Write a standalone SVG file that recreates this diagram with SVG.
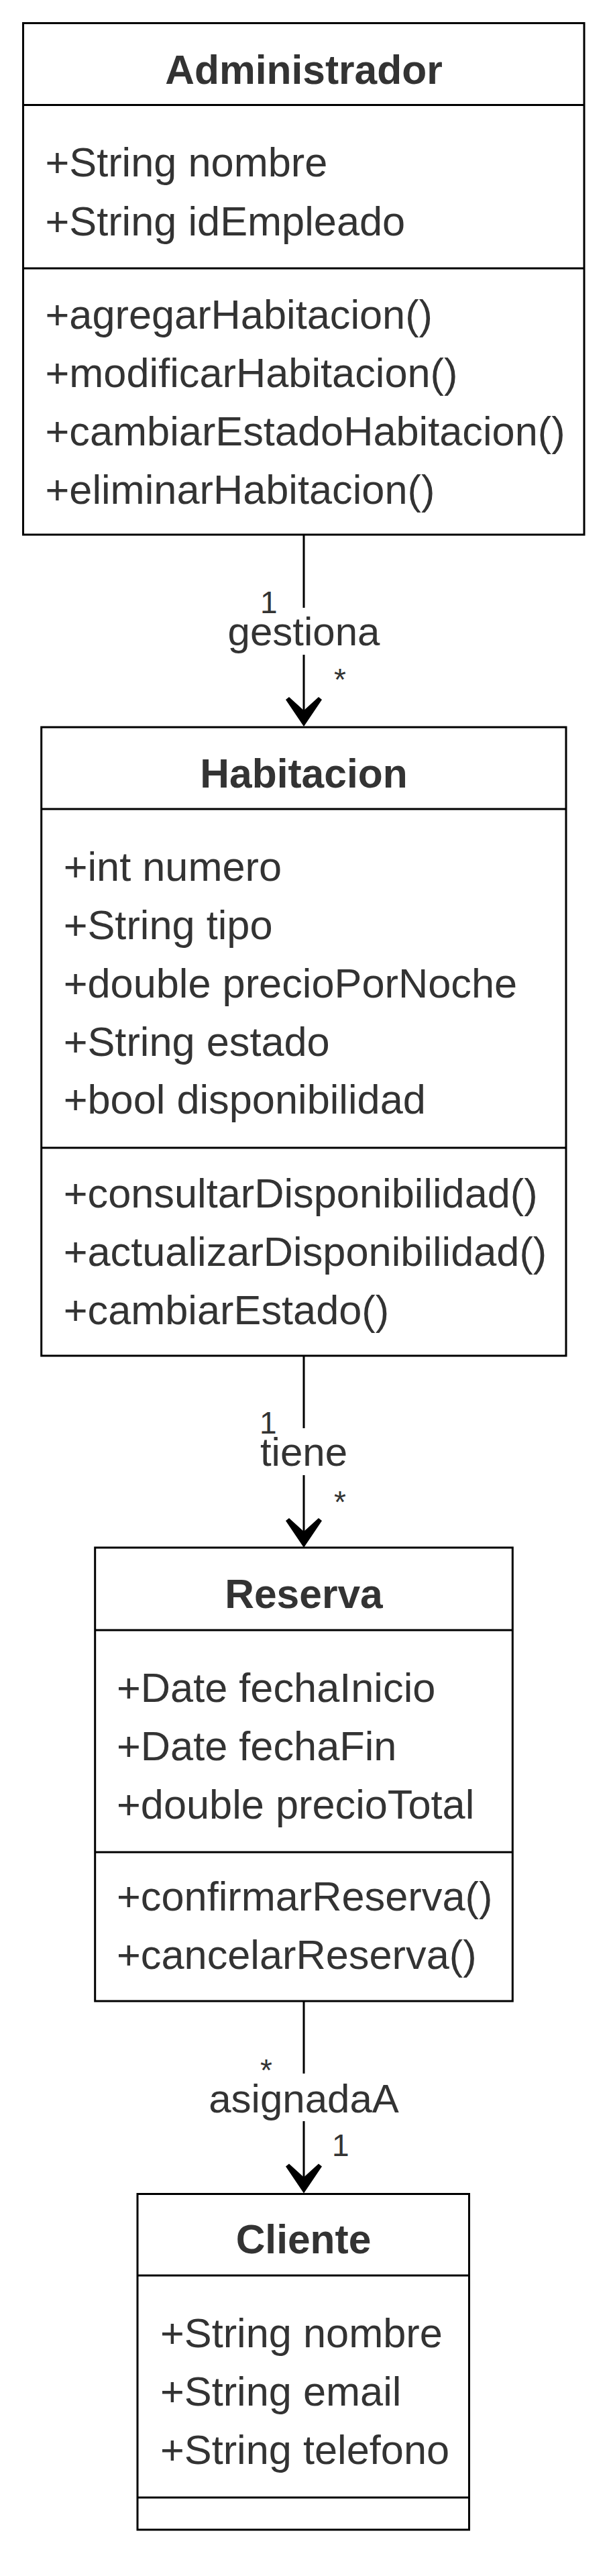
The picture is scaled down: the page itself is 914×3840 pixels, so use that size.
<svg xmlns="http://www.w3.org/2000/svg" width="914" height="3840" viewBox="0 0 914 3840">
  <style>
    .box { fill: #ffffff; stroke: #000000; stroke-width: 3; }
    .sep { stroke: #000000; stroke-width: 3; fill: none; }
    .title { font-family: "Liberation Sans", Arial, Helvetica, sans-serif; font-size: 60.5px; font-weight: bold; fill: #333333; text-anchor: middle; }
    .item { font-family: "Liberation Sans", Arial, Helvetica, sans-serif; font-size: 61.3px; fill: #333333; }
    .edge { stroke: #000000; stroke-width: 3; fill: none; marker-end: url(#open); }
    .lblbg { fill: #ffffff; stroke: none; }
    .lbl { font-family: "Liberation Sans", Arial, Helvetica, sans-serif; font-size: 60px; fill: #333333; text-anchor: middle; }
    .mult { font-family: "Liberation Sans", Arial, Helvetica, sans-serif; font-size: 46px; fill: #333333; }
  </style>
  <defs>
    <marker id="open" markerUnits="userSpaceOnUse" viewBox="-46 -30 48 60" markerWidth="48" markerHeight="60" refX="-3" refY="0" orient="auto">
      <path d="M0,0 L-40,27 L-44,22 L-24,0 L-44,-22 L-40,-27 Z" fill="#000000"/>
    </marker>
  </defs>
  <rect width="914" height="3840" fill="#ffffff"/>

  <g id="connectors">
    <g id="e-gestiona">
      <path class="edge" d="M453,797 L453,1080"/>
      <rect class="lblbg" x="336" y="906" width="234" height="70"/>
      <text class="lbl" x="453" y="962">gestiona</text>
      <text class="mult" x="388" y="914">1</text>
      <text class="mult" x="498" y="1029">*</text>
    </g>
    <g id="e-tiene">
      <path class="edge" d="M453,2021 L453,2304"/>
      <rect class="lblbg" x="385" y="2129" width="136" height="70"/>
      <text class="lbl" x="453" y="2185">tiene</text>
      <text class="mult" x="387" y="2137">1</text>
      <text class="mult" x="498" y="2255">*</text>
    </g>
    <g id="e-asignadaA">
      <path class="edge" d="M453,2983 L453,3266.5"/>
      <rect class="lblbg" x="308" y="3091" width="292" height="71"/>
      <text class="lbl" x="453" y="3149">asignadaA</text>
      <text class="mult" x="388" y="3102">*</text>
      <text class="mult" x="495" y="3214">1</text>
    </g>
  </g>

  <g id="Administrador">
    <rect class="box" x="34.5" y="34.5" width="836.5" height="762.5"/>
    <line class="sep" x1="34.5" y1="156.5" x2="871" y2="156.5"/>
    <line class="sep" x1="34.5" y1="400" x2="871" y2="400"/>
    <text class="title" x="453" y="124.5">Administrador</text>
    <text class="item" x="67.5" y="263">+String nombre</text>
    <text class="item" x="67.5" y="350.5">+String idEmpleado</text>
    <text class="item" x="67.5" y="490">+agregarHabitacion()</text>
    <text class="item" x="67.5" y="577">+modificarHabitacion()</text>
    <text class="item" x="67.5" y="664">+cambiarEstadoHabitacion()</text>
    <text class="item" x="67.5" y="751">+eliminarHabitacion()</text>
  </g>

  <g id="Habitacion">
    <rect class="box" x="61.7" y="1084" width="782.3" height="937"/>
    <line class="sep" x1="61.7" y1="1206" x2="844" y2="1206"/>
    <line class="sep" x1="61.7" y1="1711" x2="844" y2="1711"/>
    <text class="title" x="453" y="1174">Habitacion</text>
    <text class="item" x="94.7" y="1313">+int numero</text>
    <text class="item" x="94.7" y="1400">+String tipo</text>
    <text class="item" x="94.7" y="1487">+double precioPorNoche</text>
    <text class="item" x="94.7" y="1574">+String estado</text>
    <text class="item" x="94.7" y="1660">+bool disponibilidad</text>
    <text class="item" x="94.7" y="1800">+consultarDisponibilidad()</text>
    <text class="item" x="94.7" y="1887">+actualizarDisponibilidad()</text>
    <text class="item" x="94.7" y="1974">+cambiarEstado()</text>
  </g>

  <g id="Reserva">
    <rect class="box" x="141.7" y="2307" width="622.6" height="676"/>
    <line class="sep" x1="141.7" y1="2430" x2="764.3" y2="2430"/>
    <line class="sep" x1="141.7" y1="2761" x2="764.3" y2="2761"/>
    <text class="title" x="453" y="2397">Reserva</text>
    <text class="item" x="174" y="2537">+Date fechaInicio</text>
    <text class="item" x="174" y="2624">+Date fechaFin</text>
    <text class="item" x="174" y="2711">+double precioTotal</text>
    <text class="item" x="174" y="2848">+confirmarReserva()</text>
    <text class="item" x="174" y="2935">+cancelarReserva()</text>
  </g>

  <g id="Cliente">
    <rect class="box" x="205" y="3270.5" width="494.5" height="500.5"/>
    <line class="sep" x1="205" y1="3392" x2="699.5" y2="3392"/>
    <line class="sep" x1="205" y1="3723" x2="699.5" y2="3723"/>
    <text class="title" x="452.5" y="3359">Cliente</text>
    <text class="item" x="239" y="3499">+String nombre</text>
    <text class="item" x="239" y="3586">+String email</text>
    <text class="item" x="239" y="3673">+String telefono</text>
  </g>
</svg>
